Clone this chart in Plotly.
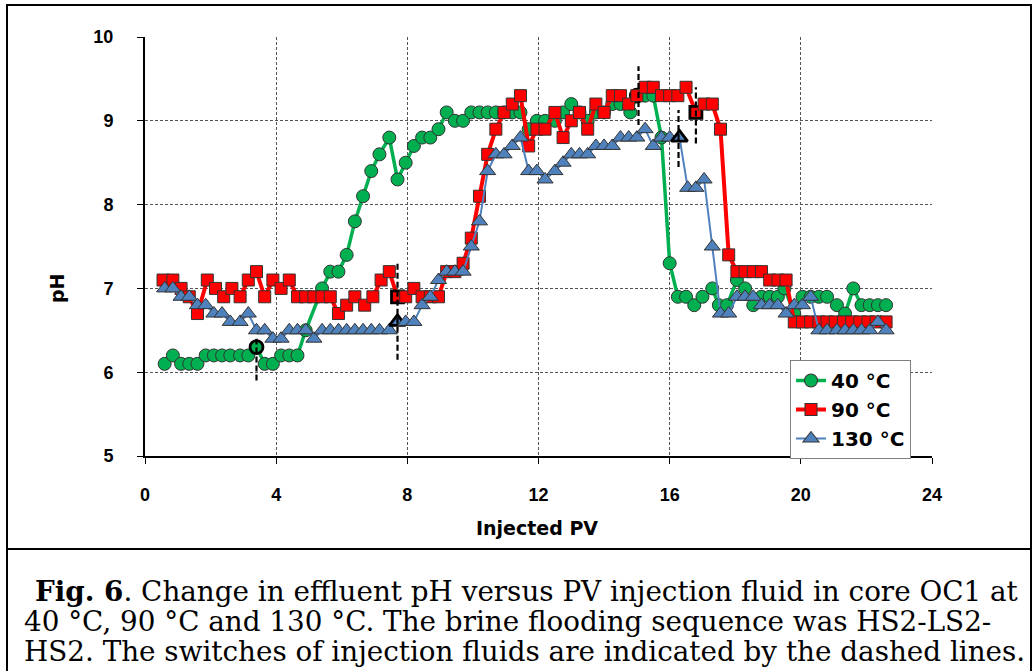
import plotly.graph_objects as go

# ---------------- data ----------------
pv_40 = [0.6, 0.85, 1.1, 1.35, 1.6, 1.85, 2.1, 2.35, 2.6, 2.9, 3.15, 3.4, 3.65, 3.9, 4.15, 4.4, 4.65, 4.9,
         5.4, 5.65, 5.9, 6.15, 6.4, 6.65, 6.9, 7.15, 7.45, 7.7, 7.95, 8.2, 8.45, 8.7, 8.95, 9.2, 9.45, 9.7,
         9.95, 10.2, 10.45, 10.7, 10.95, 11.2, 11.45, 11.7, 11.95, 12.2, 12.5, 12.75, 13.0, 13.25, 13.5,
         13.75, 14.0, 14.25, 14.5, 14.8, 15.0, 15.25, 15.5, 15.75, 16.0, 16.25, 16.5, 16.75, 17.0, 17.3,
         17.5, 17.75, 18.05, 18.3, 18.55, 18.8, 19.05, 19.3, 19.5, 19.8, 20.05, 20.3, 20.55, 20.8, 21.1,
         21.35, 21.6, 21.85, 22.1, 22.35, 22.6]
ph_40 = [6.1, 6.2, 6.1, 6.1, 6.1, 6.2, 6.2, 6.2, 6.2, 6.2, 6.2, 6.3, 6.1, 6.1, 6.2, 6.2, 6.2, 6.5,
         7.0, 7.2, 7.2, 7.4, 7.8, 8.1, 8.4, 8.6, 8.8, 8.3, 8.5, 8.7, 8.8, 8.8, 8.9, 9.1, 9.0, 9.0,
         9.1, 9.1, 9.1, 9.1, 9.1, 9.1, 9.1, 8.9, 9.0, 9.0, 9.0, 9.1, 9.2, 9.1, 9.0,
         9.1, 9.1, 9.2, 9.2, 9.1, 9.3, 9.3, 9.3, 8.8, 7.3, 6.9, 6.9, 6.8, 6.9, 7.0,
         6.8, 6.8, 7.1, 7.0, 6.8, 6.9, 6.9, 6.9, 7.0, 6.7, 6.9, 6.9, 6.9, 6.9, 6.8,
         6.7, 7.0, 6.8, 6.8, 6.8, 6.8]
switch_idx_40 = [11, 56]

pv_90 = [0.55, 0.85, 1.1, 1.35, 1.6, 1.9, 2.15, 2.4, 2.65, 2.9, 3.15, 3.4, 3.65, 3.9, 4.15, 4.4, 4.65, 4.9,
         5.15, 5.4, 5.65, 5.9, 6.15, 6.4, 6.7, 6.95, 7.2, 7.45, 7.7, 7.95, 8.2, 8.45, 8.7, 8.95, 9.2, 9.45,
         9.7, 9.95, 10.2, 10.45, 10.7, 10.95, 11.2, 11.45, 11.7, 11.95, 12.2, 12.5, 12.75, 13.0, 13.25,
         13.5, 13.75, 14.0, 14.25, 14.5, 14.75, 15.0, 15.25, 15.5, 15.75, 16.0, 16.25, 16.5, 16.8, 17.05,
         17.3, 17.55, 17.8, 18.05, 18.3, 18.55, 18.8, 19.05, 19.3, 19.55, 19.8, 20.05, 20.3, 20.55, 20.8,
         21.05, 21.3, 21.55, 21.8, 22.05, 22.3, 22.6]
ph_90 = [7.1, 7.1, 7.0, 6.9, 6.7, 7.1, 7.0, 6.9, 7.0, 6.9, 7.1, 7.2, 6.9, 7.1, 7.0, 7.1, 6.9, 6.9,
         6.9, 6.9, 6.9, 6.7, 6.8, 6.9, 6.8, 6.9, 7.1, 7.2, 6.9, 6.9, 7.0, 6.9, 6.9, 6.9, 7.2, 7.2,
         7.3, 7.6, 8.1, 8.6, 8.9, 9.1, 9.2, 9.3, 8.7, 8.9, 8.9, 9.1, 8.8, 9.0, 9.1,
         8.9, 9.2, 9.1, 9.3, 9.3, 9.2, 9.3, 9.4, 9.4, 9.3, 9.3, 9.3, 9.4, 9.1, 9.2,
         9.2, 8.9, 7.4, 7.2, 7.2, 7.2, 7.2, 7.1, 7.1, 7.1, 6.6, 6.6, 6.6, 6.6, 6.6,
         6.6, 6.6, 6.6, 6.6, 6.6, 6.6, 6.6]
switch_idx_90 = [28, 64]

pv_130 = [0.6, 0.85, 1.1, 1.35, 1.6, 1.85, 2.1, 2.35, 2.6, 2.9, 3.15, 3.4, 3.65, 3.9, 4.15, 4.4, 4.65, 4.9,
          5.15, 5.4, 5.65, 5.9, 6.15, 6.4, 6.65, 6.9, 7.15, 7.45, 7.7, 7.95, 8.2, 8.45, 8.7, 8.95, 9.2,
          9.45, 9.7, 9.95, 10.2, 10.45, 10.7, 10.95, 11.2, 11.45, 11.7, 11.95, 12.2, 12.5, 12.75, 13.0,
          13.25, 13.5, 13.75, 14.0, 14.25, 14.5, 14.75, 15.0, 15.25, 15.5, 15.75, 16.0, 16.3, 16.55, 16.8,
          17.05, 17.3, 17.55, 17.8, 18.05, 18.3, 18.55, 18.8, 19.05, 19.3, 19.55, 19.8, 20.05, 20.3, 20.55,
          20.8, 21.1, 21.35, 21.6, 21.85, 22.1, 22.35, 22.6]
ph_130 = [7.0, 7.0, 6.9, 6.9, 6.8, 6.8, 6.7, 6.7, 6.6, 6.6, 6.7, 6.5, 6.5, 6.4, 6.4, 6.5, 6.5, 6.5,
          6.4, 6.5, 6.5, 6.5, 6.5, 6.5, 6.5, 6.5, 6.5, 6.5, 6.6, 6.6, 6.6, 6.8, 6.9, 7.1, 7.2,
          7.2, 7.2, 7.5, 7.8, 8.4, 8.6, 8.6, 8.7, 8.8, 8.4, 8.4, 8.3, 8.4, 8.5, 8.6,
          8.6, 8.6, 8.7, 8.7, 8.7, 8.8, 8.8, 8.8, 8.9, 8.7, 8.8, 8.8, 8.8, 8.2, 8.2,
          8.3, 7.5, 6.7, 6.7, 6.9, 6.9, 6.9, 6.8, 6.8, 6.8, 6.7, 6.8, 6.8, 6.9, 6.5,
          6.5, 6.5, 6.5, 6.5, 6.5, 6.5, 6.6, 6.5]
switch_idx_130 = [28, 62]

# injection-fluid switch markers: (PV, pH from, pH to)
switch_pv = [3.4, 7.7, 15.05, 16.27, 16.8]
switch_ph_low = [5.9, 6.15, 8.95, 8.45, 8.73]
switch_ph_high = [6.4, 7.3, 9.65, 9.13, 9.4]

series_names = ["40 °C", "90 °C", "130 °C"]
x_ticks = [0, 4, 8, 12, 16, 20, 24]
y_ticks = [5, 6, 7, 8, 9, 10]
x_title = "Injected PV"
y_title = "pH"
caption_lines = [
    "<b>Fig. 6</b>. Change in effluent pH versus PV injection fluid in core OC1 at",
    "40 °C, 90 °C and 130 °C. The brine flooding sequence was HS2-LS2-",
    "HS2. The switches of injection fluids are indicated by the dashed lines.",
]
caption_x_px = [33, 22, 22]

# ---------------- figure ----------------
W, H = 1034, 671
L, R, T, B = 145, 932, 37, 456  # plot area in pixels


def px_x(p):
    return (p - L) / (R - L)


def px_y(p):
    return (B - p) / (B - T)


def outline(n, idx, base_w=1.0, hi_w=2.8):
    widths = [base_w] * n
    colors = ["#333333"] * n
    for i in idx:
        widths[i] = hi_w
        colors[i] = "#000000"
    return widths, colors


fig = go.Figure()

specs = [
    (pv_40, ph_40, switch_idx_40, "#00B050", 3.5, "circle", 13),
    (pv_90, ph_90, switch_idx_90, "#FF0000", 4, "square", 12),
    (pv_130, ph_130, switch_idx_130, "#4F81BD", 2, "triangle-up", 14),
]
for (xs, ys, idx, col, lw, sym, ms), name in zip(specs, series_names):
    w, c = outline(len(xs), idx)
    fig.add_trace(go.Scatter(
        x=xs, y=ys, name=name, mode="lines+markers",
        line=dict(color=col, width=lw),
        marker=dict(symbol=sym, size=ms, color=col, line=dict(width=w, color=c)),
    ))

shapes = []
for xv, y0, y1 in zip(switch_pv, switch_ph_low, switch_ph_high):
    shapes.append(dict(type="line", xref="x", yref="y", x0=xv, x1=xv, y0=y0, y1=y1,
                       line=dict(color="black", width=2.2, dash="6px,3px"), layer="above"))

# figure frame and caption box
frame_l, frame_r, frame_t, frame_mid = 7, 1031, 5, 549
shapes += [
    dict(type="rect", xref="paper", yref="paper", x0=px_x(frame_l), x1=px_x(frame_r),
         y0=px_y(frame_mid), y1=px_y(frame_t), line=dict(color="black", width=2)),
    dict(type="line", xref="paper", yref="paper", x0=px_x(frame_l), x1=px_x(frame_l),
         y0=px_y(frame_mid), y1=px_y(H + 5), line=dict(color="black", width=2)),
    dict(type="line", xref="paper", yref="paper", x0=px_x(frame_r), x1=px_x(frame_r),
         y0=px_y(frame_mid), y1=px_y(H + 5), line=dict(color="black", width=2)),
]

annotations = [
    dict(text="<b>%s</b>" % x_title, xref="paper", yref="paper", x=px_x(537), y=px_y(528),
         xanchor="center", yanchor="middle", showarrow=False,
         font=dict(family="DejaVu Sans", size=19, color="black")),
    dict(text="<b>%s</b>" % y_title, xref="paper", yref="paper", x=px_x(57), y=px_y(288),
         xanchor="center", yanchor="middle", showarrow=False, textangle=-90,
         font=dict(family="DejaVu Sans", size=19, color="black")),
]
for i, (line, cx) in enumerate(zip(caption_lines, caption_x_px)):
    annotations.append(dict(text=line, xref="paper", yref="paper", x=px_x(cx), y=px_y(591 + 30 * i),
                            xanchor="left", yanchor="middle", showarrow=False,
                            font=dict(family="DejaVu Serif", size=27.8, color="black")))

fig.update_layout(
    width=W, height=H,
    margin=dict(l=L, r=W - R, t=T, b=H - B, pad=0),
    paper_bgcolor="white", plot_bgcolor="white",
    showlegend=True,
    legend=dict(x=px_x(790), y=px_y(360), xanchor="left", yanchor="top",
                bgcolor="white", bordercolor="#808080", borderwidth=1,
                font=dict(family="DejaVu Sans", size=20, color="black", weight="bold"),
                itemwidth=30, tracegroupgap=0),
    shapes=shapes, annotations=annotations,
)
fig.update_xaxes(range=[0, 24], tickvals=x_ticks, showline=True, linecolor="black", linewidth=2,
                 showgrid=True, gridcolor="#555555", gridwidth=1, griddash="3px,2px", zeroline=False,
                 ticks="outside", ticklen=6, tickcolor="black", tickwidth=1, ticklabelstandoff=15,
                 tickfont=dict(family="Liberation Sans", size=18, color="black", weight="bold"))
fig.update_yaxes(range=[5, 10], tickvals=y_ticks, showline=True, linecolor="black", linewidth=2,
                 showgrid=True, gridcolor="#555555", gridwidth=1, griddash="3px,2px", zeroline=False,
                 ticks="outside", ticklen=6, tickcolor="black", tickwidth=1, ticklabelstandoff=20,
                 tickfont=dict(family="Liberation Sans", size=18, color="black", weight="bold"))

fig.write_html("out.html")
